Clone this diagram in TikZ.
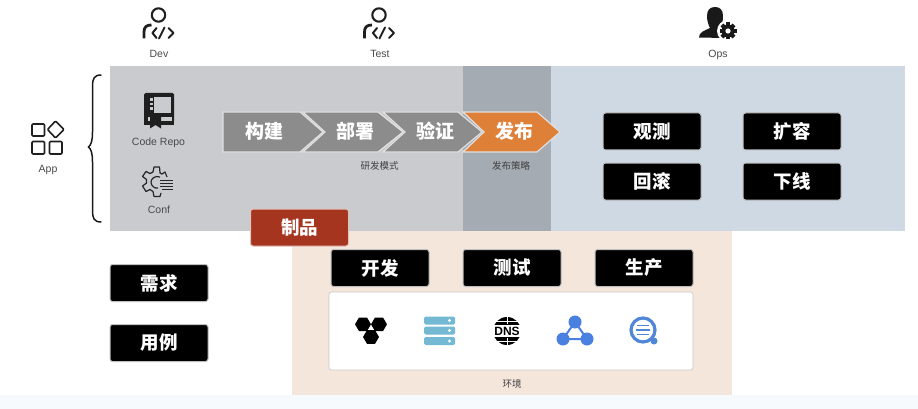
\documentclass[tikz,border=0pt]{standalone}
\usepackage{fontspec}
\setmainfont{Liberation Sans}
\newfontfamily\cjkb{Noto Sans CJK SC}
\newfontfamily\cjkm{Noto Sans CJK SC}
\definecolor{graybg}{HTML}{C9CBCE}
\definecolor{darkbg}{HTML}{A5ABB3}
\definecolor{bluebg}{HTML}{CFD9E4}
\definecolor{peach}{HTML}{F5E6DB}
\definecolor{chev}{HTML}{8C8C8C}
\definecolor{orangec}{HTML}{DF8039}
\definecolor{brick}{HTML}{A5351F}
\definecolor{lab}{HTML}{4A4A4A}
\definecolor{srv}{HTML}{74B9D3}
\definecolor{netb}{HTML}{4A80E0}
\definecolor{srch}{HTML}{4F86D8}
\definecolor{foot}{HTML}{F6FAFC}
\tikzset{
  x=1pt,y=-1pt,
  band/.style={fill=#1,draw=none},
  cmd/.style={rectangle,rounded corners=2.5pt,fill=black,draw=black!25,line width=1pt,
     minimum width=98pt,minimum height=37pt,inner sep=0pt,text=white,font=\cjkb\bfseries\fontsize{18.5}{18.5}\selectfont},
  artifact/.style={cmd,fill=brick,draw=brick!30!white},
  chevshape/.style={draw=white!88!black,line width=1.2pt,line join=miter,fill=#1},
  chevtext/.style={text=white,font=\cjkb\bfseries\fontsize{19}{19}\selectfont,inner sep=0pt},
  caplabel/.style={text=lab,font=\fontsize{10.5}{11}\selectfont,inner sep=0pt,anchor=base},
  cnlabel/.style={text=black!75,font=\cjkm\fontsize{9.5}{10}\selectfont,inner sep=0pt},
  ico/.style={draw=black!88,line width=2pt,line cap=round,line join=round,fill=none},
  thin ico/.style={draw=black!85,line width=1.2pt,line join=round,fill=none},
  dev/.pic={
    \draw[ico,line width=2.1pt] (0,-14) circle (6.7);
    \draw[ico,line width=2.8pt,line cap=butt] (-14.5,9.5) -- (-14.5,3) .. controls (-14.5,-2) and (-12,-4) .. (-7,-4);
    \draw[ico] (-2,-1) -- (-6,4) -- (-2,9);
    \draw[ico] (10,-1) -- (15,4) -- (10,9);
    \draw[ico] (6,-1.5) -- (0.5,9.5);
  }
}
\begin{document}
\begin{tikzpicture}
\useasboundingbox (0,0) rectangle (918,409);
\fill[white] (0,0) rectangle (918,409);
\fill[foot] (0,395) rectangle (918,409);
% bands
\fill[band=peach] (292,231) rectangle (732,395);
\fill[band=graybg] (110,66) rectangle (463,231);
\fill[band=darkbg] (463,66) rectangle (551,231);
\fill[band=bluebg] (551,66) rectangle (905,231);
% role icons
\pic at (158.5,29) {dev};
\pic at (379,29) {dev};
\node[caplabel] (devl) at (159,57.5) {Dev};
\node[caplabel] (testl) at (380,57.5) {Test};
\node[caplabel] (opsl) at (718,57.5) {Ops};
% ops icon
\fill[black!90] (699,37.5) .. controls (699,32) and (704,31) .. (710,28)
  .. controls (708.5,25) and (707,21) .. (707,16) .. controls (707,10) and (710,7) .. (715,7)
  .. controls (720,7) and (723,10) .. (723,16) .. controls (723,21) and (722,25) .. (720,28)
  -- (724,38) -- cycle;
\fill[white] (728,31) circle (11);
\foreach \a in {0,45,...,315}
  \fill[black!90,rotate around={\a:(728,31)}] (726,22.5) rectangle (730,27);
\fill[black!90] (728,31) circle (6.5);
\fill[white] (728,31) circle (2.6);
% app icon
\draw[ico,line width=1.6pt,rounded corners=1pt] (32,124) rectangle (44.5,136);
\draw[ico,line width=1.6pt,rounded corners=1pt] (32,141.5) rectangle (44.5,154);
\draw[ico,line width=1.6pt,rounded corners=1pt] (49.5,141.5) rectangle (62,154);
\draw[ico,line width=1.6pt,rounded corners=1pt] (55.5,121) -- (64,129.5) -- (55.5,138) -- (47.5,129.5) -- cycle;
\node[caplabel] (appl) at (48,172) {App};
% brace
\draw[line width=1.5pt,black!90,line cap=round] (101,75) .. controls (94,75) and (92.5,79) .. (92.5,86)
  -- (92.5,132) .. controls (92.5,141) and (91,145) .. (88.5,147)
  .. controls (91,149) and (92.5,153) .. (92.5,162) -- (92.5,211)
  .. controls (92.5,218) and (94,222) .. (101,222);
% code repo icon
\fill[black!88,rounded corners=1.5pt] (144,93) rectangle (174,122);
\fill[black!88] (144,116) rectangle (174,125);
\fill[graybg] (148,117.5) rectangle (172,121.5);
\fill[graybg] (149,97) rectangle (170.5,113.5);
\fill[black!88] (149,96) rectangle (153.5,114);
\foreach \yy in {98.5,103,107.5} \fill[graybg] (150,\yy) rectangle (152.5,\yy+2.2);
\fill[black!88] (150,117) -- (161,117) -- (161,128.5) -- (155.5,125) -- (150,128.5) -- cycle;
\node[caplabel] (repol) at (158.5,146) {Code Repo};
% conf icon
\begin{scope}[shift={(157,182)}]
  \draw[thin ico] (10,-5) -- (8,-10) -- (5,-8) -- (3,-9) -- (2.5,-15) -- (-3,-15) -- (-4,-10) -- (-7,-8.5) -- (-11,-10.5) -- (-14.5,-5.5) -- (-10.5,-2.5) -- (-10.5,1) -- (-14.5,4) -- (-11,9.5) -- (-7,7.5) -- (-4,9.5) -- (-3,14.5) -- (3,14.5) -- (4,11);
  \draw[thin ico] (3,-5) .. controls (-2,-7) and (-6,-3) .. (-6,0) .. controls (-6,4) and (-2,7) .. (1,6);
  \draw[black!85,line width=1.2pt] (3,-1.5) -- (16,-1.5) (3,1.5) -- (16,1.5) (3,4.5) -- (16,4.5) (5,7.5) -- (16,7.5);
\end{scope}
\node[caplabel] (confl) at (159,213) {Conf};
% chevrons
\path[chevshape=chev] (223,112) -- (300,112) -- (323,132) -- (300,152) -- (223,152) -- cycle;
\path[chevshape=chev] (303,112) -- (378,112) -- (403,132) -- (378,152) -- (303,152) -- (325,132) -- cycle;
\path[chevshape=chev] (383,112) -- (458,112) -- (482,132) -- (458,152) -- (383,152) -- (405,132) -- cycle;
\path[chevshape=orangec] (463,112) -- (537,112) -- (560,132) -- (537,152) -- (463,152) -- (484,132) -- cycle;
\node[chevtext] (build) at (264,131.5) {构建};
\node[chevtext] (deploy) at (355,131.5) {部署};
\node[chevtext] (verify) at (435,131.5) {验证};
\node[chevtext] (release) at (514,131.5) {发布};
\node[cnlabel] (devmode) at (379.5,166) {研发模式};
\node[cnlabel] (relstrat) at (511,166) {发布策略};
% ops commands
\node[cmd] (observe) at (652,131.5) {观测};
\node[cmd] (scale) at (792,131.5) {扩容};
\node[cmd] (rollback) at (652,181.5) {回滚};
\node[cmd] (offline) at (792,181.5) {下线};
% left commands
\node[cmd] (req) at (159,283) {需求};
\node[cmd] (usecase) at (159,343) {用例};
% envs
\node[cmd] (envdev) at (380,268) {开发};
\node[cmd] (envtest) at (512,268) {测试};
\node[cmd] (envprod) at (644,268) {生产};
% white panel
\node[rectangle,rounded corners=2.5pt,fill=white,draw=black!22,line width=.6pt,minimum width=364pt,minimum height=78pt,inner sep=0pt] (panel) at (511,331) {};
\node[cnlabel] (envl) at (512,384) {环境};
\node[artifact] (artifact) at (299.5,227.5) {制品};
% hexagons
\foreach \cx/\cy in {363/324.3,379/324.3,371/337}
  \fill[black] (\cx-8,\cy) -- (\cx-4,\cy-6.8) -- (\cx+4,\cy-6.8) -- (\cx+8,\cy) -- (\cx+4,\cy+6.8) -- (\cx-4,\cy+6.8) -- cycle;
% server
\foreach \yy in {316.5,326.5,337} {
  \fill[srv,rounded corners=1.5pt] (424,\yy) rectangle (455,\yy+8);
  \fill[white] (449.5,\yy+4) circle (1.7);
}
% dns
\fill[black] (507,331) circle (14);
\fill[white] (492,325) rectangle (522,337);
\draw[white,line width=.7pt] (493,321) -- (521,321) (493,341) -- (521,341) (507,317) -- (507,324) (507,338) -- (507,345);
\node[inner sep=0pt,font=\bfseries\fontsize{12}{12}\selectfont] (dns) at (507,331) {DNS};
% network
\draw[netb,line width=2pt] (575,322) -- (563,339) -- (587,339) -- cycle;
\fill[netb] (575,322) circle (6.5) (563,339) circle (6.5) (587,339) circle (6.5);
% search
\draw[srch,line width=3.2pt] (643,330) circle (12);
\fill[srch] (654,341) circle (3.5);
\draw[srch,line width=1.5pt] (637,325.5) -- (649,325.5) (636,330) -- (650,330) (637,334.5) -- (649,334.5);
\end{tikzpicture}
\end{document}
